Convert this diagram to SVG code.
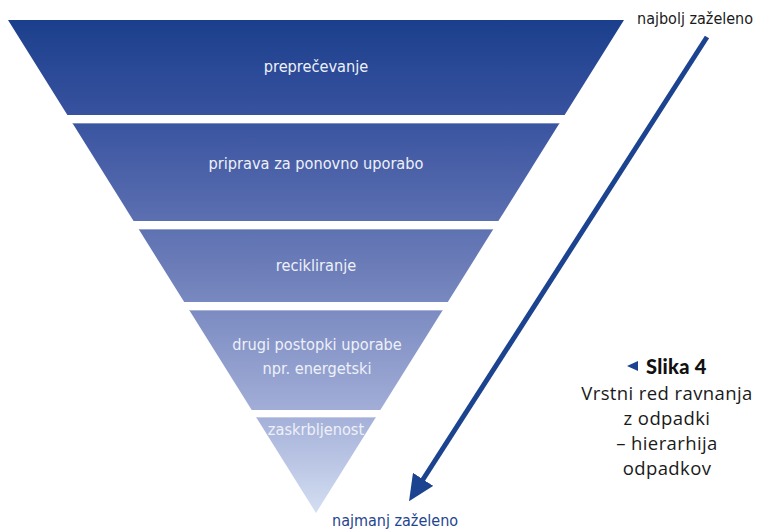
<svg xmlns="http://www.w3.org/2000/svg" width="765" height="532" viewBox="0 0 765 532">
  <defs>
    <!-- one continuous vertical shading running through all bands of the funnel -->
    <linearGradient id="funnelFill" gradientUnits="userSpaceOnUse" x1="0" y1="20" x2="0" y2="513">
      <stop offset="0" stop-color="#1b3f8c"/>
      <stop offset="0.2" stop-color="#3953a0"/>
      <stop offset="0.5" stop-color="#6b7cb8"/>
      <stop offset="0.8" stop-color="#a3afd8"/>
      <stop offset="1" stop-color="#d4def2"/>
    </linearGradient>
    <marker id="arrowHead" markerUnits="userSpaceOnUse" markerWidth="26" markerHeight="24" refX="2" refY="12" orient="auto">
      <path d="M0,0 L26,12 L0,24 Z" fill="#1c438f"/>
    </marker>
  </defs>
  <style>
    .band { fill: url(#funnelFill); }
    .edge { stroke: #ffffff; stroke-opacity: 0.35; stroke-width: 1; fill: none; }
    .lbl { font-family: "DejaVu Sans Condensed", "DejaVu Sans", sans-serif; font-stretch: condensed; font-size: 16.2px; fill: #eef1f8; text-anchor: middle; }
    .end { font-family: "DejaVu Sans Condensed", "DejaVu Sans", sans-serif; font-stretch: condensed; font-size: 16px; }
    .cap { font-family: "Open Sans", "Noto Sans", sans-serif; font-size: 18.5px; letter-spacing: 0.4px; fill: #1a1a1a; text-anchor: middle; }
  </style>

  <rect width="765" height="532" fill="#ffffff"/>

  <g id="band-preprecevanje">
    <polygon class="band" points="8,20 624,20 564.6,115 67.4,115"/>
    <text class="lbl" x="316" y="72">preprečevanje</text>
  </g>

  <g id="band-priprava">
    <polygon class="band" points="72.4,123 559.6,123 498.4,221 133.6,221"/>
    <line class="edge" x1="72.9" y1="123.5" x2="559.1" y2="123.5"/>
    <text class="lbl" x="316" y="169">priprava za ponovno uporabo</text>
  </g>

  <g id="band-recikliranje">
    <polygon class="band" points="138.6,229 493.4,229 447.8,302 184.2,302"/>
    <line class="edge" x1="139.1" y1="229.5" x2="492.9" y2="229.5"/>
    <text class="lbl" x="316" y="271">recikliranje</text>
  </g>

  <g id="band-drugi">
    <polygon class="band" points="189.2,310 442.8,310 380.3,410 251.7,410"/>
    <line class="edge" x1="189.7" y1="310.5" x2="442.3" y2="310.5"/>
    <text class="lbl" x="317" y="350">drugi postopki uporabe</text>
    <text class="lbl" x="317" y="374">npr. energetski</text>
  </g>

  <g id="band-zaskrbljenost">
    <polygon class="band" points="256,417 376,417 316,513"/>
    <line class="edge" x1="256.5" y1="417.5" x2="375.5" y2="417.5"/>
    <text class="lbl" x="316" y="435">zaskrbljenost</text>
  </g>

  <g id="connectors">
    <line x1="707" y1="37" x2="422" y2="481" stroke="#1c438f" stroke-width="5" marker-end="url(#arrowHead)"/>
  </g>

  <g id="ends">
    <text class="end" x="637" y="24" fill="#1a1a1a">najbolj zaželeno</text>
    <text class="end" x="332" y="526" fill="#1f4590">najmanj zaželeno</text>
  </g>

  <g id="caption">
    <polygon points="627,366 638,361 638,371" fill="#1c438f"/>
    <text x="646" y="374" font-family="Lato, 'Open Sans', sans-serif" font-weight="900" font-size="20px" letter-spacing="0.3px" fill="#111111">Slika 4</text>
    <text class="cap" x="667" y="400">Vrstni red ravnanja</text>
    <text class="cap" x="667" y="425">z odpadki</text>
    <text class="cap" x="667" y="450">– hierarhija</text>
    <text class="cap" x="667" y="475">odpadkov</text>
  </g>
</svg>
